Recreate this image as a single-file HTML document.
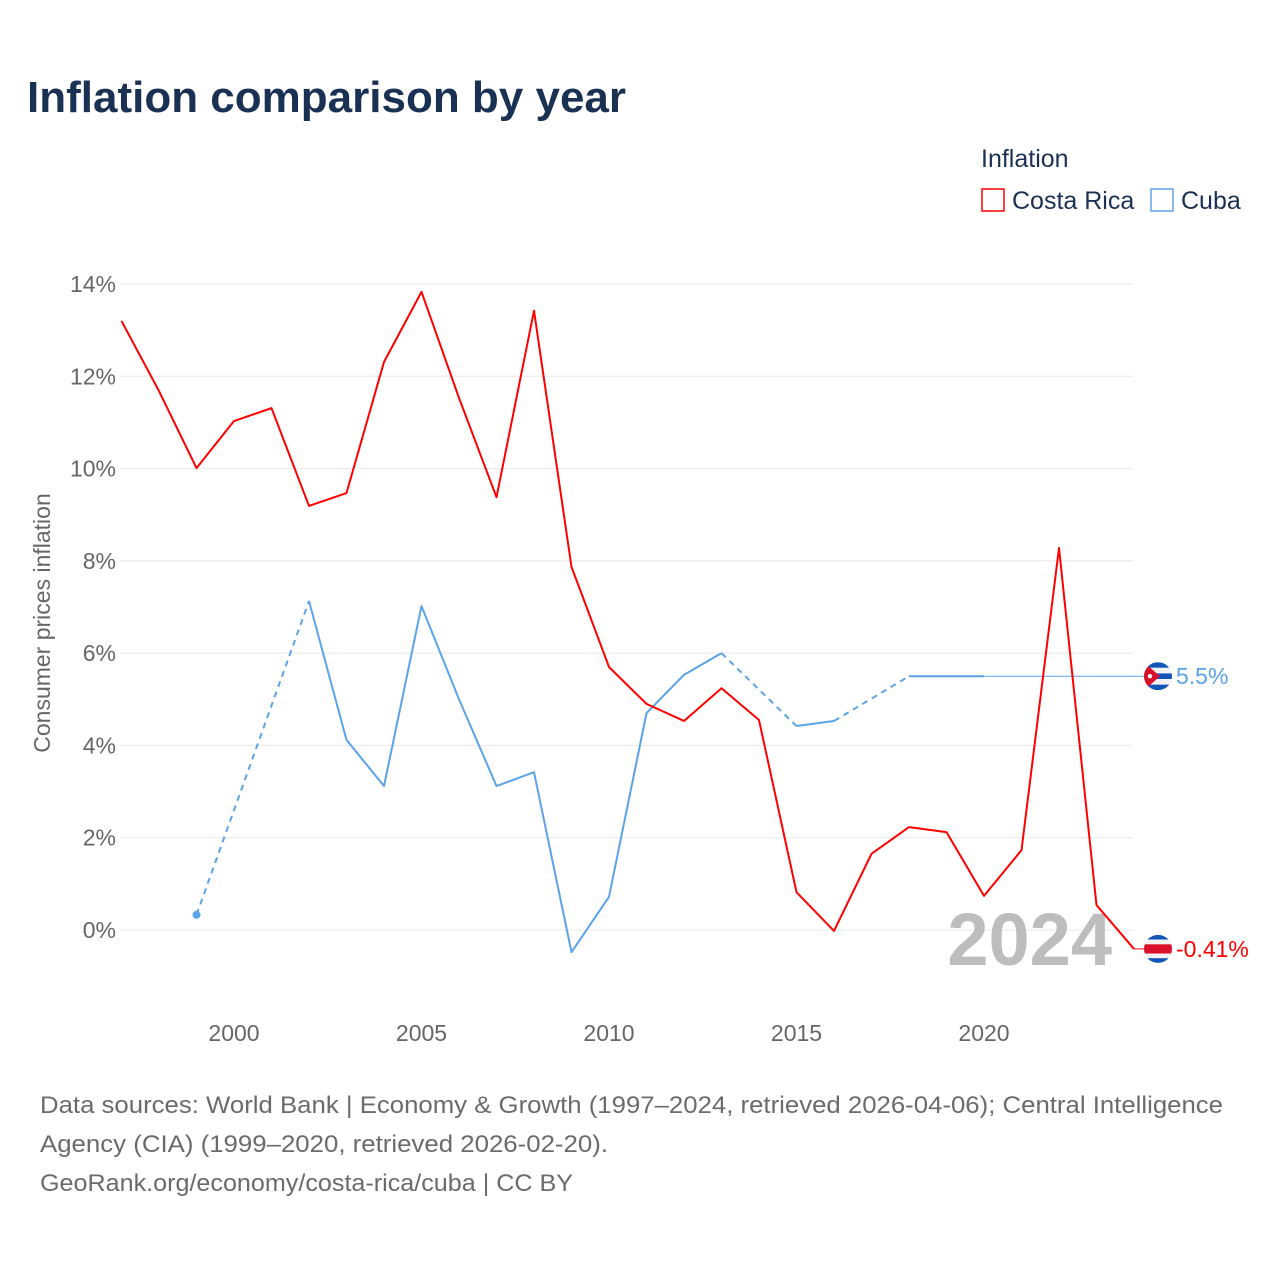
<!DOCTYPE html>
<html><head><meta charset="utf-8"><style>
html,body{margin:0;padding:0;background:#fff;width:1280px;height:1280px;overflow:hidden;font-family:"Liberation Sans",sans-serif}
</style></head><body>
<svg id="chart" width="1280" height="1280" xmlns="http://www.w3.org/2000/svg" font-family="Liberation Sans, sans-serif">
<text x="27" y="112" font-size="44" font-weight="bold" fill="#1b3153">Inflation comparison by year</text>
<g>
<text x="981" y="167" font-size="25" fill="#1b3153">Inflation</text>
<g><rect x="982" y="189" width="22" height="22" fill="none" stroke="#ff0000" stroke-width="1.5"/><text x="1012" y="209" font-size="25" fill="#1b3153">Costa Rica</text></g>
<g><rect x="1151" y="189" width="22" height="22" fill="none" stroke="#5ba3e8" stroke-width="1.5"/><text x="1181" y="209" font-size="25" fill="#1b3153">Cuba</text></g>
</g>
<text transform="translate(50,623) rotate(-90)" text-anchor="middle" font-size="23" fill="#666">Consumer prices inflation</text>
<g id="grid"></g><g id="xticks"></g>
<text x="1112" y="965" text-anchor="end" font-size="74" font-weight="bold" fill="#bdbdbd">2024</text>
<g id="series"></g>
<g font-size="24" fill="#6b6b6b">
<text x="40" y="1113" textLength="1183" lengthAdjust="spacingAndGlyphs">Data sources: World Bank | Economy &amp; Growth (1997–2024, retrieved 2026-04-06); Central Intelligence</text>
<text x="40" y="1152" textLength="568" lengthAdjust="spacingAndGlyphs">Agency (CIA) (1999–2020, retrieved 2026-02-20).</text>
<text x="40" y="1191" textLength="533" lengthAdjust="spacingAndGlyphs">GeoRank.org/economy/costa-rica/cuba | CC BY</text>
</g>
</svg>
<script>
const years=[1997,1998,1999,2000,2001,2002,2003,2004,2005,2006,2007,2008,2009,2010,2011,2012,2013,2014,2015,2016,2017,2018,2019,2020,2021,2022,2023,2024];
const costaRica=[13.2,11.68,10.01,11.03,11.31,9.19,9.47,12.31,13.83,11.53,9.38,13.42,7.87,5.70,4.90,4.53,5.24,4.55,0.82,-0.02,1.65,2.23,2.12,0.74,1.73,8.28,0.54,-0.41];
const cuba=[null,null,0.33,null,null,7.13,4.12,3.12,7.02,5.0,3.12,3.42,-0.48,0.72,4.70,5.53,6.0,null,4.42,4.53,null,5.5,5.5,5.5,null,null,null,null];
const yTicks=[0,2,4,6,8,10,12,14];
const xTicks=[2000,2005,2010,2015,2020];
const NS="http://www.w3.org/2000/svg";
const X=y=>234+(y-2000)*37.5, Y=v=>930-v*46.143;
function mk(tag,attrs,parent){const e=document.createElementNS(NS,tag);for(const k in attrs)e.setAttribute(k,attrs[k]);parent.appendChild(e);return e;}
const grid=document.getElementById('grid'),xt=document.getElementById('xticks'),ser=document.getElementById('series');
yTicks.forEach(t=>{
 const l=mk('line',{x1:120,x2:1133,y1:Y(t),y2:Y(t),stroke:'#e8e8e8','stroke-width':1},grid);
 
 
 const tx=mk('text',{x:116,y:Y(t)+8,'text-anchor':'end','font-size':23,fill:'#666'},grid);tx.textContent=t+'%';
 
 
});
xTicks.forEach(t=>{
 const tx=mk('text',{x:X(t),y:1041,'text-anchor':'middle','font-size':23,fill:'#666'},xt);tx.textContent=t;
 
 
});
function draw(vals,color,name){
 const g=mk('g',{},ser);
 
 
 let prev=-1,solid=[];
 const flush=()=>{if(solid.length>1)mk('polyline',{points:solid.join(' '),fill:'none',stroke:color,'stroke-width':2,'stroke-linejoin':'round'},g);};
 vals.forEach((v,i)=>{
  if(v==null)return;
  const p=X(years[i])+','+Y(v);
  if(prev>=0&&i-prev>1){flush();solid=[];mk('line',{x1:X(years[prev]),y1:Y(vals[prev]),x2:X(years[i]),y2:Y(v),stroke:color,'stroke-width':2,'stroke-dasharray':'6,5'},g);}
  solid.push(p);prev=i;
 });
 flush();
 const first=vals.findIndex(v=>v!=null);
 if(vals[first+1]==null){const c=mk('circle',{cx:X(years[first]),cy:Y(vals[first]),r:4,fill:color},g);}
 return prev;
}
const cubaLast=draw(cuba,'#5ba3e8','cuba');
mk('line',{x1:X(years[cubaLast]),y1:Y(cuba[cubaLast]),x2:1150,y2:Y(cuba[cubaLast]),stroke:'#5ba3e8','stroke-width':1},ser);
const crLast=draw(costaRica,'#ff0000','costa-rica');
mk('line',{x1:X(years[crLast]),y1:Y(costaRica[crLast]),x2:1150,y2:Y(costaRica[crLast]),stroke:'#ff0000','stroke-width':1},ser);
function flag(cy,type,label,color,name){
 const g=mk('g',{},ser);
 
 
 const cx=1158,r=14;
 const cp=mk('clipPath',{id:'cp'+type},g);mk('circle',{cx,cy,r},cp);
 const f=mk('g',{'clip-path':'url(#cp'+type+')'},g);
 if(type==='cu'){
  for(let i=0;i<5;i++)mk('rect',{x:cx-r,y:cy-r+i*5.6,width:2*r,height:5.6,fill:i%2?'#f2f2f2':'#1155b8'},f);
  mk('polygon',{points:`${cx-r},${cy-r} ${cx+2},${cy} ${cx-r},${cy+r}`,fill:'#d8102a'},f);
  mk('circle',{cx:cx-8,cy,r:2.2,fill:'#fff'},f);
 }else{
  const h=[4.7,4.7,9.2,4.7,4.7],c=['#1155b8','#f2f2f2','#d8102a','#f2f2f2','#1155b8'];let y=cy-r;
  h.forEach((hh,i)=>{mk('rect',{x:cx-r,y,width:2*r,height:hh,fill:c[i]},f);y+=hh;});
 }
 const t=mk('text',{x:1176,y:cy+8,'font-size':23,fill:color},g);t.textContent=label;
}
flag(Y(cuba[cubaLast]),'cu',cuba[cubaLast]+'%','#5ba3e8','cuba');
flag(Y(costaRica[crLast]),'cr',costaRica[crLast]+'%','#ff0000','costa-rica');
</script>
</body></html>
